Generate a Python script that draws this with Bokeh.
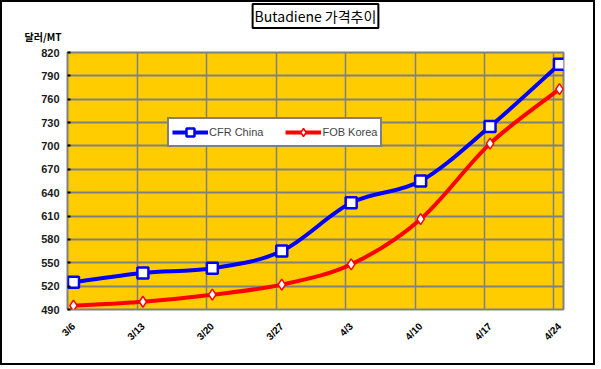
from bokeh.plotting import figure
from bokeh.models import (Range1d, FixedTicker, Grid, Legend, LegendItem, Title,
                          ColumnDataSource)
from bokeh.embed import file_html
from bokeh.resources import INLINE
import math

# ---- data ----
dates = ["3/6", "3/13", "3/20", "3/27", "4/3", "4/10", "4/17", "4/24"]
cfr_china = [525, 537, 543, 565, 627, 655, 725, 805]
fob_korea = [495, 500, 509, 522, 548, 606, 703, 773]
y_ticks = [490, 520, 550, 580, 610, 640, 670, 700, 730, 760, 790, 820]
title_text = "Butadiene 가격추이"
unit_text = "달러/MT"

xs = list(range(len(dates)))

p = figure(width=595, height=365, output_backend="svg", toolbar_location=None,
           x_range=Range1d(-0.086, len(dates) - 1 + 0.058),
           y_range=Range1d(y_ticks[0], y_ticks[-1]),
           min_border_left=65, min_border_right=34, min_border_top=50, min_border_bottom=58)
p.styles = {"border": "2px solid black"}
p.background_fill_color = "#FFCC00"
p.border_fill_color = "white"
p.outline_line_color = "#808080"
p.outline_line_width = 2

# title
p.title.text = title_text
p.title.align = "center"
p.title.text_font = "Noto Sans CJK KR"
p.title.text_font_size = "14px"
p.title.text_font_style = "normal"
p.title.text_color = "black"
p.title.background_fill_color = "white"
p.title.border_line_color = "black"
p.title.border_line_width = 2
p.title.padding = 2
p.title.standoff = -21

# unit label, nearest the frame
p.add_layout(Title(text=unit_text, align="left", offset=-43, standoff=18,
                   text_font="Noto Sans CJK KR", text_font_style="bold",
                   text_font_size="10px", text_color="black"), "above")

# grids
p.xgrid.visible = False
p.ygrid.grid_line_color = "#808080"
p.ygrid.grid_line_width = 2
p.ygrid.ticker = FixedTicker(ticks=y_ticks)
vgrid = Grid(dimension=0, ticker=FixedTicker(ticks=[i + 0.92 for i in range(len(dates) - 1)]),
             grid_line_color="#808080", grid_line_width=1.5)
p.add_layout(vgrid)

# axes
p.yaxis.ticker = FixedTicker(ticks=y_ticks)
p.yaxis.axis_line_color = None
p.yaxis.major_tick_line_color = "black"
p.yaxis.major_tick_out = 0
p.yaxis.major_tick_in = 3
p.yaxis.major_tick_line_width = 2
p.yaxis.minor_tick_line_color = None
p.yaxis.major_label_text_font = "Liberation Sans"
p.yaxis.major_label_text_font_style = "bold"
p.yaxis.major_label_text_font_size = "11px"
p.yaxis.major_label_text_color = "#1a1a1a"
p.yaxis.major_label_standoff = 8

p.xaxis.ticker = FixedTicker(ticks=xs)
p.xaxis.major_label_overrides = {i: d for i, d in enumerate(dates)}
p.xaxis.axis_line_color = None
p.xaxis.major_tick_line_color = None
p.xaxis.minor_tick_line_color = None
p.xaxis.major_label_orientation = math.pi / 4
p.xaxis.major_label_text_font = "Liberation Sans"
p.xaxis.major_label_text_font_style = "bold"
p.xaxis.major_label_text_font_size = "10px"
p.xaxis.major_label_text_color = "black"
p.xaxis.major_label_standoff = 9


def smooth(ys):
    n = len(ys)
    pts = list(zip(xs, ys))
    x0, y0, x1, y1, cx0, cy0, cx1, cy1 = [], [], [], [], [], [], [], []
    for i in range(n - 1):
        pm = pts[max(i - 1, 0)]
        pa = pts[i]
        pb = pts[i + 1]
        pn = pts[min(i + 2, n - 1)]
        x0.append(pa[0]); y0.append(pa[1]); x1.append(pb[0]); y1.append(pb[1])
        cx0.append(pa[0] + (pb[0] - pm[0]) / 6); cy0.append(pa[1] + (pb[1] - pm[1]) / 6)
        cx1.append(pb[0] - (pn[0] - pa[0]) / 6); cy1.append(pb[1] - (pn[1] - pa[1]) / 6)
    return ColumnDataSource(dict(x0=x0, y0=y0, x1=x1, y1=y1, cx0=cx0, cy0=cy0, cx1=cx1, cy1=cy1))


series = [
    ("CFR China", cfr_china, "#0000FF", "square", 11, 2.5),
    ("FOB Korea", fob_korea, "#FF0000", "diamond", 11, 1.5),
]
items = []
for name, ys, color, marker, size, mlw in series:
    curve = p.bezier(x0="x0", y0="y0", x1="x1", y1="y1", cx0="cx0", cy0="cy0", cx1="cx1",
                     cy1="cy1", source=smooth(ys), line_color=color, line_width=4)
    pts = p.scatter(xs, ys, marker=marker, size=size, fill_color="white", line_color=color,
                    line_width=mlw)
    items.append(LegendItem(label=name, renderers=[curve, pts]))

legend = Legend(items=items, orientation="horizontal", location=(100, 162),
                background_fill_color="white", background_fill_alpha=1,
                border_line_color="black", border_line_width=2,
                label_text_font="Liberation Sans", label_text_font_size="11px",
                glyph_width=36, glyph_height=20, label_standoff=1, spacing=22,
                padding=3, margin=0)
p.add_layout(legend, "center")

open("out.html", "w").write(file_html(p, INLINE))
